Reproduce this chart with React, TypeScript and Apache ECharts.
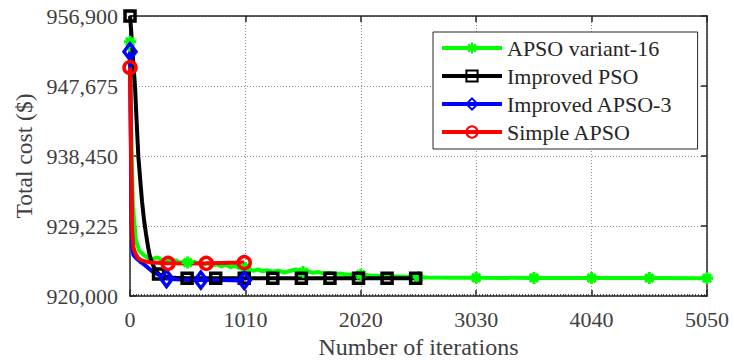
import React, { useEffect, useRef } from "react";
import * as echarts from "echarts";

// ---- data ----
const seriesNames = ["APSO variant-16", "Improved PSO", "Improved APSO-3", "Simple APSO"];

const iterGreen = [0, 10, 25, 50, 80, 120, 160, 200, 240, 280, 320, 360, 400, 440, 480, 505, 520, 560, 600, 640, 680, 720, 760, 800, 840, 880, 920, 960, 1000, 1010, 1040, 1080, 1120, 1160, 1200, 1250, 1300, 1350, 1400, 1450, 1500, 1515, 1550, 1600, 1650, 1700, 1750, 1800, 1850, 1900, 2000, 2020, 2100, 2200, 2300, 2400, 2500, 2525, 2600, 2800, 3030, 3535, 4040, 4545, 5050];
const costGreen = [953500, 942000, 932000, 927500, 926000, 925400, 925000, 924900, 925100, 924700, 924900, 924500, 924700, 924350, 924600, 924400, 924250, 924500, 924300, 924100, 924350, 924000, 924200, 923900, 924100, 923800, 923950, 923650, 923800, 923700, 923600, 923300, 923500, 923250, 923400, 923200, 923350, 923100, 923300, 923500, 923200, 923150, 923300, 923050, 923150, 922950, 923050, 922900, 922950, 922800, 922850, 922800, 922700, 922650, 922600, 922550, 922500, 922480, 922450, 922420, 922400, 922380, 922370, 922360, 922350];
const marksGreen = [0, 505, 1010, 1515, 2020, 2525, 3030, 3535, 4040, 4545, 5050];

const iterBlack = [0, 10, 20, 30, 44, 58, 73, 90, 105, 123, 140, 160, 175, 200, 225, 250, 300, 350, 400, 500, 600, 750, 1000, 1250, 1500, 1750, 2000, 2250, 2500];
const costBlack = [956900, 955000, 952800, 950500, 947600, 943000, 938400, 935200, 932500, 930000, 928200, 926300, 925200, 924100, 923400, 922900, 922600, 922450, 922400, 922350, 922340, 922330, 922330, 922330, 922330, 922330, 922330, 922330, 922330];
const marksBlack = [0, 250, 500, 750, 1000, 1250, 1500, 1750, 2000, 2250, 2500];

const iterBlue = [0, 5, 10, 15, 20, 30, 60, 90, 120, 160, 200, 250, 320, 400, 500, 620, 800, 1000];
const costBlue = [952200, 944000, 936000, 929500, 926500, 925400, 924900, 924500, 924200, 923700, 923200, 922800, 922300, 922200, 922150, 922100, 922100, 922050];
const marksBlue = [0, 320, 620, 1000];

const iterRed = [0, 5, 10, 15, 20, 30, 45, 70, 100, 150, 200, 333, 500, 667, 800, 1000];
const costRed = [950100, 944000, 938000, 932000, 928500, 926400, 925700, 925000, 924700, 924500, 924400, 924300, 924280, 924300, 924350, 924400];
const marksRed = [0, 333, 667, 1000];

const yBase = 920000;
const yTop = 956900;
const yStep = 9225;
const xMax = 5050;
const xStep = 1010;

const FONT = "Liberation Serif";

function fmt(v: number) {
  const s = String(Math.round(v));
  return s.replace(/\B(?=(\d{3})+(?!\d))/g, ",");
}

function build(iters: number[], costs: number[], marks: number[]) {
  return iters.map((x, i) => {
    const item: any = { value: [x, costs[i] - yBase] };
    if (!marks.includes(x)) item.symbol = "none";
    return item;
  });
}

const asterisk = "path://M5,0L5,10M0,5L10,5M1.6,1.6L8.4,8.4M1.6,8.4L8.4,1.6";

export default function App() {
  const ref = useRef<HTMLDivElement>(null);
  useEffect(() => {
    document.body.style.margin = "0";
    const chart = echarts.init(ref.current!, null, { renderer: "svg" });
    const axisColor = "#262626";
    const mkLine = (name: string, color: string, iters: number[], costs: number[], marks: number[], symbol: string, size: any, bw: number) => ({
      type: "line",
      name,
      data: build(iters, costs, marks),
      symbol,
      symbolSize: size,
      showAllSymbol: true,
      lineStyle: { color, width: 4 },
      itemStyle: { color: "rgba(0,0,0,0)", borderColor: color, borderWidth: bw },
      emphasis: { disabled: true },
    });
    chart.setOption({
      animation: false,
      backgroundColor: "#ffffff",
      textStyle: { fontFamily: FONT },
      grid: { left: 130, top: 16, right: 27, bottom: 68, containLabel: false, outerBoundsMode: "none" },
      legend: {
        orient: "vertical",
        left: 433,
        top: 32,
        padding: [5, 25, 6, 7],
        itemWidth: 60,
        itemHeight: 14,
        itemGap: 6,
        backgroundColor: "#ffffff",
        borderColor: axisColor,
        borderWidth: 1,
        lineStyle: { width: 4 },
        textStyle: { fontFamily: FONT, fontSize: 22, color: "#262626" },
        data: seriesNames,
      },
      xAxis: [
        {
          type: "value",
          min: 0,
          max: xMax,
          interval: xStep,
          name: "Number of iterations",
          nameLocation: "middle",
          nameGap: 34,
          nameTextStyle: { fontFamily: FONT, fontSize: 24, color: "#404040" },
          axisLine: { show: true, onZero: false, lineStyle: { color: axisColor, width: 1.5 } },
          axisTick: { show: true, inside: true, length: 6, lineStyle: { color: axisColor, width: 1.5 } },
          minorTick: { show: true, splitNumber: 40, length: 2, lineStyle: { color: axisColor, width: 0.8 } },
          axisLabel: { fontFamily: FONT, fontSize: 22, color: "#404040", margin: 12, formatter: (v: number) => String(v) },
          splitLine: { show: true, lineStyle: { color: "#8c8c8c", width: 1, type: [1, 2] } },
        },
        {
          type: "value",
          position: "top",
          min: 0,
          max: xMax,
          interval: xStep,
          axisLine: { show: true, onZero: false, lineStyle: { color: axisColor, width: 1.5 } },
          axisTick: { show: true, inside: true, length: 6, lineStyle: { color: axisColor, width: 1.5 } },
          axisLabel: { show: false },
          splitLine: { show: false },
        },
      ],
      yAxis: [
        {
          type: "value",
          min: 0,
          max: yTop - yBase,
          interval: yStep,
          name: "Total cost ($)",
          nameLocation: "middle",
          nameGap: 92,
          nameTextStyle: { fontFamily: FONT, fontSize: 23.5, color: "#404040" },
          axisLine: { show: true, onZero: false, lineStyle: { color: axisColor, width: 1.5 } },
          axisTick: { show: true, inside: true, length: 6, lineStyle: { color: axisColor, width: 1.5 } },
          axisLabel: { fontFamily: FONT, fontSize: 22, color: "#404040", margin: 12, formatter: (v: number) => fmt(v + yBase) },
          splitLine: { show: true, lineStyle: { color: "#8c8c8c", width: 1, type: [1, 2] } },
        },
        {
          type: "value",
          position: "right",
          min: 0,
          max: yTop - yBase,
          interval: yStep,
          axisLine: { show: true, onZero: false, lineStyle: { color: axisColor, width: 1.5 } },
          axisTick: { show: true, inside: true, length: 6, lineStyle: { color: axisColor, width: 1.5 } },
          axisLabel: { show: false },
          splitLine: { show: false },
        },
      ],
      series: [
        mkLine(seriesNames[0], "#00ff00", iterGreen, costGreen, marksGreen, asterisk, 12, 3),
        mkLine(seriesNames[1], "#000000", iterBlack, costBlack, marksBlack, "rect", 10, 3.5),
        mkLine(seriesNames[2], "#0000ff", iterBlue, costBlue, marksBlue, "diamond", [12, 16], 3.5),
        mkLine(seriesNames[3], "#ff0000", iterRed, costRed, marksRed, "circle", 12, 3.5),
      ],
    });
    return () => chart.dispose();
  }, []);
  return <div ref={ref} style={{ position: "fixed", left: 0, top: 0, width: 734, height: 364 }} />;
}
